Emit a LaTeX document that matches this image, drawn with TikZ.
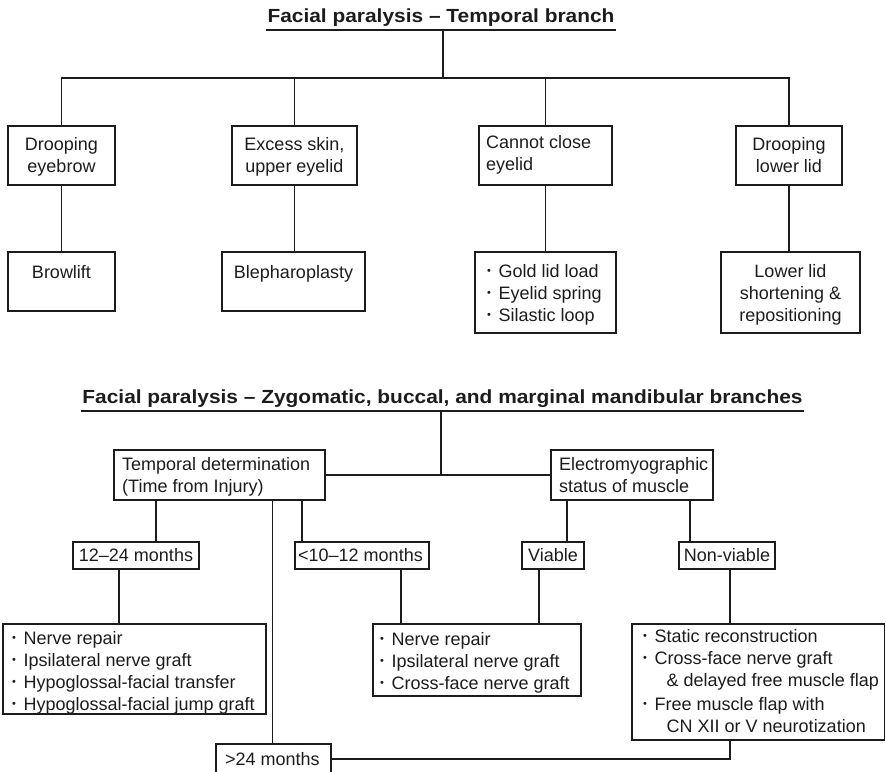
\documentclass[tikz,border=0pt]{standalone}
\usepackage{fontspec}
\setmainfont{Liberation Sans}
\newfontfamily\headfont{Liberation Sans}[FakeStretch=1.10]
\usetikzlibrary{fit}
\definecolor{ink}{RGB}{30,27,28}
\newcommand\bodysize{\fontsize{18}{22}\selectfont}
\newcommand\headsize{\fontsize{19}{22}\selectfont}
% bullet for list items
\newcommand\itm{\makebox[11.5pt][l]{\raisebox{3pt}{\fontsize{11}{11}\selectfont •}}}
\newcommand\cont{\hspace*{23.5pt}}
\begin{document}
\begin{tikzpicture}[x=1pt,y=-1pt,
  box/.style={draw=ink, line width=1.6pt, inner sep=0pt},
  link/.style={draw=ink, line width=1.6pt},
  txt/.style={inner sep=0pt, text=ink, font=\bodysize},
  ctxt/.style={txt, align=center, anchor=base},
  ltxt/.style={txt, align=left, anchor=base west},
  head/.style={inner sep=0pt, text=ink, font=\headsize\headfont\bfseries, anchor=base}]
\useasboundingbox (0,0) rectangle (886,771);
% multi-line texts are placed by the baseline of their last line

% ---------- Temporal branch ----------
\node[head] (t1) at (441,22.5) {Facial paralysis – Temporal branch};
\coordinate (u1l) at (266,30);
\coordinate (u1r) at (616,30);
\coordinate (t1j) at (443,30);
\coordinate (t1k) at (443,78);

\node[box, fit={(8,126) (115,185)}] (b1) {};
\node[box, fit={(232,126) (357,185)}] (b2) {};
\node[box, fit={(479,126) (612,185)}] (b3) {};
\node[box, fit={(736,126) (842,185)}] (b4) {};

\node[box, fit={(8,252) (115,311)}] (r1) {};
\node[box, fit={(222,252) (365,311)}] (r2) {};
\node[box, fit={(475,252) (616,333)}] (r3) {};
\node[box, fit={(721,252) (860,333)}] (r4) {};

\node[ctxt] (b1t) at (61.5,172.5) {Drooping\\eyebrow};
\node[ctxt] (b2t) at (294.5,172.5) {Excess skin,\\upper eyelid};
\node[ltxt] (b3t) at (486,170) {Cannot close\\eyelid};
\node[ctxt] (b4t) at (789,172.5) {Drooping\\lower lid};

\node[ctxt] (r1t) at (61.5,278) {Browlift};
\node[ctxt] (r2t) at (293.5,278) {Blepharoplasty};
\node[ltxt] (r3t) at (487,321.5) {\itm Gold lid load\\\itm Eyelid spring\\\itm Silastic loop};
\node[ctxt] (r4t) at (790.5,321.5) {Lower lid\\shortening \&\\repositioning};

\draw[link] (u1l) -- (u1r);
\draw[link] (t1j) -- (t1k);
\draw[link] (b1.north) -- (b1.north |- t1k) -- (b4.north |- t1k) -- (b4.north);
\draw[link] (b2.north |- t1k) -- (b2.north);
\draw[link] (b3.north |- t1k) -- (b3.north);
\draw[link] (b1.south) -- (b1.south |- r1.north);
\draw[link] (b2.south) -- (b2.south |- r2.north);
\draw[link] (b3.south) -- (b3.south |- r3.north);
\draw[link] (b4.south) -- (b4.south |- r4.north);

% ---------- Zygomatic, buccal and marginal mandibular branches ----------
\node[head] (t2) at (442.5,403) {Facial paralysis – Zygomatic, buccal, and marginal mandibular branches};
\coordinate (u2l) at (81,411);
\coordinate (u2r) at (804,411);
\coordinate (t2j) at (441,411);
\coordinate (t2k) at (441,475);

\node[box, fit={(114,450) (325,500)}] (tdet) {};
\node[box, fit={(551,450) (713,500)}] (emg) {};
\node[box, fit={(73,542) (199,569)}] (m1224) {};
\node[box, fit={(295,542) (429,569)}] (m1012) {};
\node[box, fit={(522,542) (584,569)}] (viab) {};
\node[box, fit={(679,542) (775,569)}] (nonv) {};
\node[box, fit={(3,624) (266,714)}] (L1) {};
\node[box, fit={(373,624) (581,696)}] (L2) {};
\node[box, fit={(632,624) (884.5,740)}] (L3) {};
\node[box, fit={(216,744) (331,774)}] (m24) {};

\node[ltxt] (tdett) at (122,492) {Temporal determination\\(Time from Injury)};
\node[ltxt] (emgt) at (559,492) {Electromyographic\\status of muscle};
\node[ctxt] (m1224t) at (136,561) {12–24 months};
\node[ltxt] (m1012t) at (298,561) {<10–12 months};
\node[ctxt] (viabt) at (553,561) {Viable};
\node[ctxt] (nonvt) at (727,561) {Non-viable};
\node[ltxt] (L1t) at (12,710.5) {\itm Nerve repair\\\itm Ipsilateral nerve graft\\\itm Hypoglossal-facial transfer\\\itm Hypoglossal-facial jump graft};
\node[ltxt] (L2t) at (380,689) {\itm Nerve repair\\\itm Ipsilateral nerve graft\\\itm Cross-face nerve graft};
\node[ltxt] (L3t) at (643,732) {\itm Static reconstruction\\\itm Cross-face nerve graft\\\cont\& delayed free muscle flap\\[1.5pt]\itm Free muscle flap with\\\cont CN XII or V neurotization};
\node[ltxt] (m24t) at (225,765) {>24 months};

% branch positions of the connectors
\coordinate (xa) at (156,0);
\coordinate (xb) at (302,0);
\coordinate (xc) at (119,0);
\coordinate (xd) at (401,0);
\coordinate (xe) at (567,0);
\coordinate (xf) at (690,0);
\coordinate (xg) at (539,0);
\coordinate (xh) at (730,0);
\coordinate (xi) at (272.5,0);

\draw[link] (u2l) -- (u2r);
\draw[link] (t2j) -- (t2k);
\draw[link] (tdet.east) -- (emg.west);
\draw[link] (tdet.south -| xa) -- (m1224.north -| xa);
\draw[link] (tdet.south -| xb) -- (m1012.north -| xb);
\draw[link] (tdet.south -| xi) -- (m24.north -| xi);
\draw[link] (m1224.south -| xc) -- (L1.north -| xc);
\draw[link] (m1012.south -| xd) -- (L2.north -| xd);
\draw[link] (emg.south -| xe) -- (viab.north -| xe);
\draw[link] (emg.south -| xf) -- (nonv.north -| xf);
\draw[link] (viab.south -| xg) -- (L2.north -| xg);
\draw[link] (nonv.south -| xh) -- (L3.north -| xh);
\draw[link] (m24.east) -| (L3.south -| xh);
\end{tikzpicture}
\end{document}
